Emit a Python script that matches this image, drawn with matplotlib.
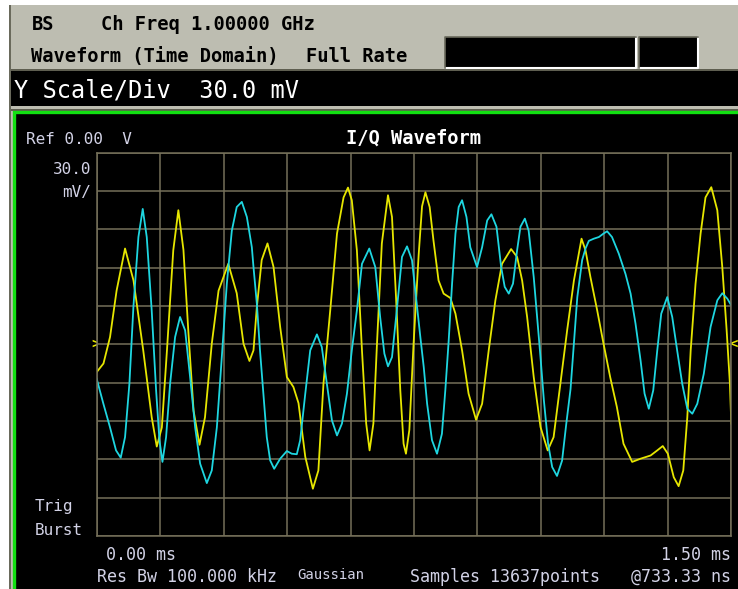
import numpy as np
import matplotlib
matplotlib.use("Agg")
import matplotlib.pyplot as plt
from matplotlib.patches import Rectangle

plt.rcParams['font.family'] = ['DejaVu Sans Mono', 'DejaVu Sans']

# I trace (cyan): time in ms, amplitude in mV
i_t = [0.000, 0.0158, 0.0315, 0.0457, 0.0568, 0.067, 0.0773, 0.0867, 0.0986, 0.1088,
       0.1183, 0.130, 0.1404, 0.1483, 0.1554, 0.164, 0.1735, 0.1853, 0.197, 0.209,
       0.2208, 0.2327, 0.2445, 0.2603, 0.272, 0.284, 0.2957, 0.3076, 0.3194, 0.331,
       0.343, 0.3549, 0.3667, 0.3706, 0.3785, 0.386, 0.394, 0.402, 0.410, 0.4195,
       0.4337, 0.4495, 0.461, 0.473, 0.481, 0.493, 0.5047, 0.5205, 0.532, 0.544,
       0.556, 0.568, 0.5797, 0.5915, 0.603, 0.615, 0.627, 0.6443, 0.6585, 0.670,
       0.680, 0.6885, 0.698, 0.710, 0.7216, 0.7335, 0.7453, 0.757, 0.765, 0.773,
       0.781, 0.7925, 0.8044, 0.816, 0.824, 0.832, 0.840, 0.848, 0.8556, 0.8636,
       0.874, 0.883, 0.899, 0.911, 0.923, 0.933, 0.945, 0.956, 0.9644, 0.974,
       0.984, 0.9937, 1.0016, 1.012, 1.021, 1.033, 1.041, 1.049, 1.057, 1.067,
       1.0766, 1.088, 1.100, 1.110, 1.120, 1.129, 1.136, 1.1475, 1.1554, 1.1633,
       1.175, 1.187, 1.198, 1.2065, 1.218, 1.234, 1.250, 1.262, 1.2736, 1.2855,
       1.295, 1.305, 1.3155, 1.325, 1.3344, 1.3486, 1.3604, 1.372, 1.384, 1.396,
       1.4078, 1.4196, 1.435, 1.451, 1.467, 1.4787, 1.4905, 1.500]
i_mv = [-27, -46.5, -65, -83, -88.7, -72.6, -30.8, 29, 84, 106,
        84, 26.6, -36, -75, -92, -72.6, -30.8, 5.7, 21.4, 11,
        -25.6, -65, -93.4, -108.6, -98.7, -65, -10, 47.5, 89, 107.5,
        111.5, 99.7, 76, 60.5, 32, -4.7, -38.6, -72.6, -90.8, -97.4,
        -89.5, -83.5, -85.6, -86, -75, -38.6, -4.7, 7.8, -2, -30.8,
        -59.5, -71.3, -62, -38.6, -4.7, 26.6, 63, 75, 60.5, 21.4,
        -7.3, -17.2, -10, 29, 68.4, 76.7, 65.8, 30, 5.7, -17.7,
        -46.5, -75, -85.6, -70, -36, 3, 47.5, 86.7, 107.5, 112.8,
        99.7, 76, 60.5, 76, 97, 101.8, 92, 60.5, 45, 39.7,
        47.5, 73.6, 92, 98.4, 89, 52.7, 21.4, -10, -43.8, -77.8,
        -96, -103, -91, -62, -35, 5.7, 37, 66, 75, 81,
        82.7, 84, 86.7, 88.5, 84, 71, 55, 39.7, 16.2, -12.5,
        -38.6, -50.4, -36, -4.7, 24, 37, 21.4, -4.7, -30.8, -50.4,
        -54.3, -46.5, -23, 13.6, 34.5, 40, 35.8, 30.5]

# Q trace (yellow): time in ms, amplitude in mV
q_t = [0.000, 0.016, 0.0315, 0.047, 0.067, 0.087, 0.110, 0.130, 0.142, 0.154,
       0.166, 0.181, 0.193, 0.205, 0.217, 0.229, 0.243, 0.256, 0.272, 0.288,
       0.311, 0.331, 0.347, 0.361, 0.3706, 0.3785, 0.390, 0.4037, 0.418, 0.4337,
       0.4495, 0.465, 0.477, 0.493, 0.511, 0.524, 0.536, 0.552, 0.568, 0.5835,
       0.594, 0.603, 0.615, 0.627, 0.637, 0.645, 0.654, 0.6625, 0.674, 0.6885,
       0.698, 0.7075, 0.7176, 0.7254, 0.731, 0.739, 0.749, 0.761, 0.769, 0.777,
       0.787, 0.796, 0.808, 0.820, 0.836, 0.848, 0.8636, 0.879, 0.8967, 0.911,
       0.9266, 0.9424, 0.958, 0.9795, 0.9937, 1.0056, 1.0174, 1.033, 1.049, 1.066,
       1.080, 1.096, 1.112, 1.128, 1.146, 1.1554, 1.167, 1.183, 1.198, 1.2137,
       1.2295, 1.2452, 1.2657, 1.2855, 1.3092, 1.325, 1.338, 1.350, 1.364, 1.3755,
       1.3865, 1.396, 1.404, 1.4155, 1.4274, 1.439, 1.4527, 1.4669, 1.4787, 1.489,
       1.4967, 1.500]
q_mv = [-21.7, -15, 5.7, 42, 75, 50, -4.7, -57, -80, -65,
        -5, 73.6, 105, 74, 8, -52, -78.6, -57, 0.5, 42,
        63, 40, 0.5, -13, -4.7, 29, 66, 79, 60.5, 13.6,
        -25.6, -33.4, -46, -88, -113, -98.7, -30.8, 26.6, 86.7, 115,
        122.7, 112.8, 73.6, -4.7, -62, -83, -62, 0.5, 79, 116.7,
        99.7, 37, -36, -77.8, -85.6, -67, 0.5, 70, 108, 119,
        107.5, 81.4, 50, 39.7, 36.3, 24, -4.7, -38.6, -59, -46.5,
        -4.7, 34.5, 63, 74.6, 68.4, 50, 21.4, -25.6, -64.7, -83,
        -72.6, -30.8, 11, 50, 82.7, 73.6, 52.7, 26.6, 0.5, -25.6,
        -49, -77.8, -92, -89.5, -87, -83, -79.6, -85.6, -104, -111,
        -98.7, -57, -4.7, 47.5, 86.7, 115, 123, 105, 60.5, 11,
        -30.8, -62]

t_span = 1.5        # ms across the screen
mv_per_div = 30.0   # Y scale

W, H = 738, 589
fig = plt.figure(figsize=(W / 100, H / 100), dpi=100)
fig.patch.set_facecolor('white')

# screen furniture drawn in pixel coordinates
bg = fig.add_axes([0, 0, 1, 1])
bg.set_xlim(0, W)
bg.set_ylim(H, 0)
bg.axis('off')

panel = '#bdbdb1'
label = '#d2d2e6'
grid_c = '#75705a'

bg.add_patch(Rectangle((9, 5), W - 9, H, facecolor=panel, edgecolor='none'))
bg.add_patch(Rectangle((9, 5), 2, H, facecolor='#6a6a5c', edgecolor='none'))
# status boxes
for x0, w in [(445, 191), (639, 59)]:
    bg.add_patch(Rectangle((x0, 37), w, 31, facecolor='black', edgecolor='none'))
    bg.plot([x0, x0 + w, x0 + w], [68, 68, 37], color='white', lw=1.5)
    bg.plot([x0, x0, x0 + w], [68, 37, 37], color='#6a6a5c', lw=1.2)
# scale bar
bg.add_patch(Rectangle((11, 69), W - 11, 2, facecolor='#5e5e50', edgecolor='none'))
bg.add_patch(Rectangle((11, 71), W - 11, 35, facecolor='black', edgecolor='none'))
bg.add_patch(Rectangle((11, 109), W - 11, 2, facecolor='#5e5e50', edgecolor='none'))
# green frame of the measurement window
bg.add_patch(Rectangle((13.5, 112), W, H, facecolor='black', edgecolor='#12e012',
                       lw=2.4))

bg.text(32, 30, 'BS', fontsize=13.5, fontweight='bold', color='black')
bg.text(101, 30, 'Ch Freq 1.00000 GHz', fontsize=13.5, fontweight='bold', color='black')
bg.text(31, 62, 'Waveform (Time Domain)', fontsize=13.5, fontweight='bold', color='black')
bg.text(306, 62, 'Full Rate', fontsize=13.5, fontweight='bold', color='black')
bg.text(14, 97, 'Y Scale/Div  30.0 mV', fontsize=17, color='white')

bg.text(26, 144, 'Ref 0.00  V', fontsize=11.5, color=label)
bg.text(414, 144, 'I/Q Waveform', fontsize=13.5, fontweight='bold', color='white',
        ha='center')
bg.text(91, 174, '30.0', fontsize=11.5, color=label, ha='right')
bg.text(91, 197, 'mV/', fontsize=11.5, color=label, ha='right')
bg.text(35, 511, 'Trig', fontsize=11.5, color=label)
bg.text(35, 535, 'Burst', fontsize=11.5, color=label)
bg.text(106, 560, '0.00 ms', fontsize=12, color=label)
bg.text(731, 560, '1.50 ms', fontsize=12, color=label, ha='right')
bg.text(97, 582, 'Res Bw 100.000 kHz', fontsize=12, color=label)
bg.text(297, 579, 'Gaussian', fontsize=10, color=label)
bg.text(410, 582, 'Samples 13637points', fontsize=12, color=label)
bg.text(731, 582, '@733.33 ns', fontsize=12, color=label, ha='right')

# reference level markers
bg.text(95.5, 344, '>', fontsize=10, color='#e8e800', ha='center', va='center',
        fontweight='bold')
bg.text(734, 344, '<', fontsize=10, color='#e8e800', ha='center', va='center',
        fontweight='bold')

# graticule
left, right, top, bottom = 96.7, 731.3, 152.7, 536.0
ax = fig.add_axes([left / W, 1 - bottom / H, (right - left) / W, (bottom - top) / H])
ax.set_facecolor('black')
ax.set_xlim(0, t_span)
ax.set_ylim(-5 * mv_per_div, 5 * mv_per_div)
ax.set_xticks(np.linspace(0, t_span, 11))
ax.set_yticks(np.arange(-5, 6) * mv_per_div)
ax.tick_params(length=0, labelbottom=False, labelleft=False)
ax.grid(True, color=grid_c, lw=1.1)
for sp in ax.spines.values():
    sp.set_color(grid_c)
    sp.set_linewidth(1.1)

ax.plot(q_t, q_mv, color='#e6e600', lw=1.3)
ax.plot(i_t, i_mv, color='#1ed6e0', lw=1.3)

fig.savefig('out.png', dpi=100, facecolor=fig.get_facecolor())
